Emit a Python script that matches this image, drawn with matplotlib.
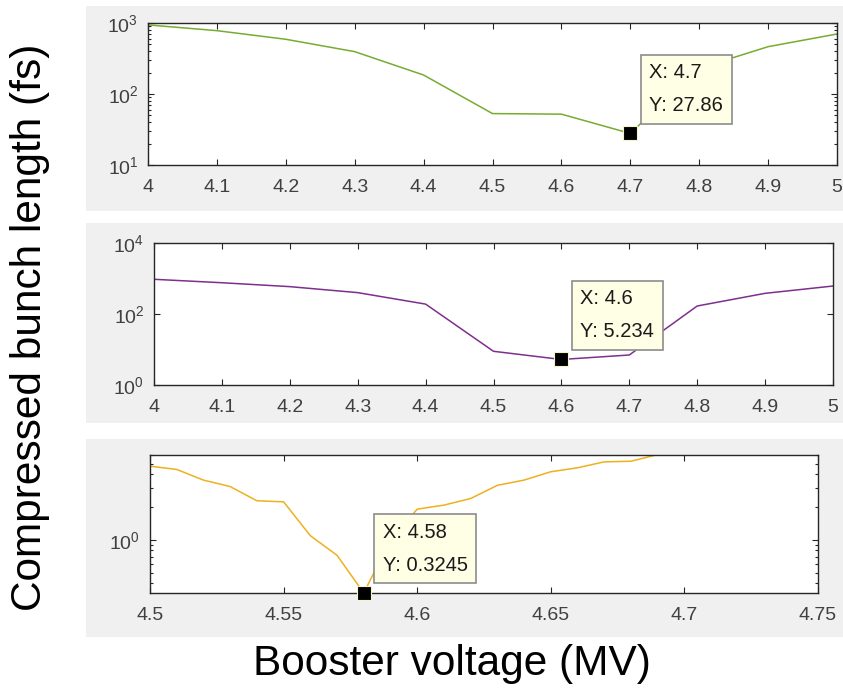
# Compressed bunch length vs booster voltage, three scans on log axes
import matplotlib.pyplot as plt
from matplotlib.patches import Rectangle
from matplotlib.ticker import FixedLocator, LogLocator, NullLocator, NullFormatter

plt.rcParams['font.family'] = ['Liberation Sans', 'DejaVu Sans']
plt.rcParams['mathtext.fontset'] = 'custom'
plt.rcParams['mathtext.rm'] = 'Liberation Sans'
plt.rcParams['mathtext.default'] = 'regular'

# # # # DATA # # # #

# coarse scan, 0.1 MV steps
volt_a = [4.0, 4.1, 4.2, 4.3, 4.4, 4.5, 4.6, 4.7, 4.8, 4.9, 5.0]
bunch_a = [940, 780, 590, 395, 185, 53, 52, 27.86, 230, 464, 700]
xticks_a = [4.0, 4.1, 4.2, 4.3, 4.4, 4.5, 4.6, 4.7, 4.8, 4.9, 5.0]
xlabels_a = ['4', '4.1', '4.2', '4.3', '4.4', '4.5', '4.6', '4.7', '4.8', '4.9', '5']
yticks_a = [10, 100, 1000]
tip_a = 7

# second coarse scan
volt_b = [4.0, 4.1, 4.2, 4.3, 4.4, 4.5, 4.6, 4.7, 4.8, 4.9, 5.0]
bunch_b = [950, 760, 590, 400, 190, 8.9, 5.234, 7.0, 168, 382, 614]
yticks_b = [1, 100, 10000]
tip_b = 6

# fine scan, 0.01 MV steps
volt_c = [4.50, 4.51, 4.52, 4.53, 4.54, 4.55, 4.56, 4.57, 4.58, 4.59, 4.60,
          4.61, 4.62, 4.63, 4.64, 4.65, 4.66, 4.67, 4.68, 4.69, 4.70]
bunch_c = [4.74, 4.42, 3.53, 3.08, 2.28, 2.23, 1.09, 0.72, 0.3245, 1.0, 1.91,
           2.08, 2.39, 3.16, 3.53, 4.21, 4.58, 5.19, 5.26, 6.05, 6.3]
xticks_c = [4.5, 4.55, 4.6, 4.65, 4.7, 4.75]
xlabels_c = ['4.5', '4.55', '4.6', '4.65', '4.7', '4.75']
yticks_c = [1]
tip_c = 8

# matlab default line colours
green = '#77ac30'
purple = '#7e2f8e'
yellow = '#edb120'

W, H = 843, 688
fig = plt.figure(figsize=(W / 100, H / 100), dpi=100)

# grey panels behind each subplot (left, top, right, bottom in px)
for l, t, r, b in [(86, 6, 843, 211), (86, 223, 843, 423), (86, 439, 843, 637)]:
    fig.patches.append(Rectangle((l / W, 1 - b / H), (r - l) / W, (b - t) / H,
                                 transform=fig.transFigure, fc='#f0f0f0', ec='none', zorder=-5))


def px_axes(l, t, r, b):
    return fig.add_axes([l / W, 1 - b / H, (r - l) / W, (b - t) / H])


def style(ax):
    for s in ax.spines.values():
        s.set_color('#262626')
        s.set_linewidth(1.0)
    ax.tick_params(which='both', direction='in', top=True, right=True,
                   color='#262626', labelcolor='#404040', labelsize=14, width=0.8)
    ax.tick_params(which='major', length=4.5)
    ax.tick_params(which='minor', length=2.3)
    ax.tick_params(axis='x', pad=10)
    ax.tick_params(axis='y', pad=7)
    ax.yaxis.set_minor_formatter(NullFormatter())


def datatip(ax, x, y):
    ax.plot(x, y, 's', ms=10, mfc='k', mec='#f4f4cc', mew=0.8, clip_on=False, zorder=5)
    ax.annotate(f'X: {x:g}\nY: {y:.4g}', xy=(x, y), xytext=(19, 18),
                textcoords='offset pixels', ha='left', va='bottom',
                fontsize=14.5, linespacing=1.95, color='#1a1a1a',
                bbox=dict(boxstyle='square,pad=0.42', fc='#ffffe6', ec='#8c8c8c', lw=1.2),
                zorder=6, annotation_clip=False)


# # # # TOP PANEL # # # #
ax1 = px_axes(148, 23, 837, 165)
ax1.plot(volt_a, bunch_a, color=green, lw=1.1)
ax1.set_yscale('log')
ax1.set_xlim(4, 5)
ax1.set_ylim(10, 1000)
ax1.set_xticks(xticks_a)
ax1.set_xticklabels(xlabels_a)
ax1.yaxis.set_major_locator(FixedLocator(yticks_a))
ax1.yaxis.set_minor_locator(LogLocator(base=10, subs=range(2, 10)))
style(ax1)
datatip(ax1, volt_a[tip_a], bunch_a[tip_a])

# # # # MIDDLE PANEL # # # #
ax2 = px_axes(154, 243, 833, 385)
ax2.plot(volt_b, bunch_b, color=purple, lw=1.1)
ax2.set_yscale('log')
ax2.set_xlim(4, 5)
ax2.set_ylim(1, 10000)
ax2.set_xticks(xticks_a)
ax2.set_xticklabels(xlabels_a)
ax2.yaxis.set_major_locator(FixedLocator(yticks_b))
ax2.yaxis.set_minor_locator(NullLocator())
style(ax2)
datatip(ax2, volt_b[tip_b], bunch_b[tip_b])

# # # # BOTTOM PANEL # # # #
ax3 = px_axes(150, 455, 818, 593)
ax3.plot(volt_c, bunch_c, color=yellow, lw=1.1)
ax3.set_yscale('log')
ax3.set_xlim(4.5, 4.75)
ax3.set_ylim(bunch_c[tip_c], 6)
ax3.set_xticks(xticks_c)
ax3.set_xticklabels(xlabels_c)
ax3.yaxis.set_major_locator(FixedLocator(yticks_c))
ax3.yaxis.set_minor_locator(LogLocator(base=10, subs=range(2, 10)))
style(ax3)
datatip(ax3, volt_c[tip_c], bunch_c[tip_c])

# shared axis labels
fig.text(30 / W, 1 - 327 / H, 'Compressed bunch length (fs)', rotation=90,
         ha='center', va='center', fontsize=30.5, color='black')
fig.text(452 / W, 1 - 664 / H, 'Booster voltage (MV)',
         ha='center', va='center', fontsize=30.5, color='black')

fig.savefig('out.png', dpi=100)
